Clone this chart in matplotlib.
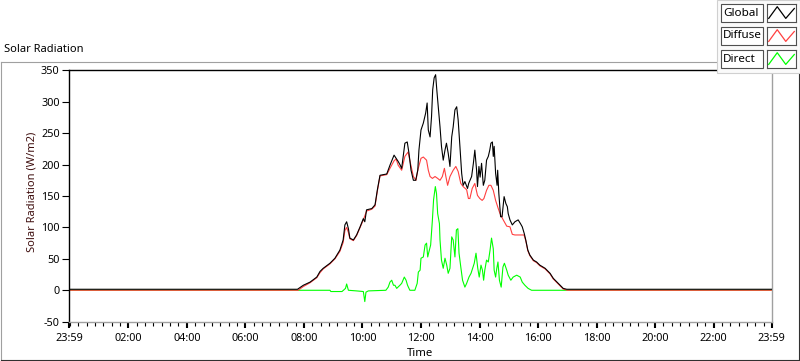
import matplotlib.pyplot as plt
from matplotlib.lines import Line2D
from matplotlib.patches import Rectangle
import numpy as np

plt.rcParams['font.family'] = ['Noto Sans', 'DejaVu Sans']

# time of day in hours, radiation in W/m2
global_pts = [(-0.02, 1.6), (7.78, 1.6), (7.98, 8), (8.21, 13), (8.44, 21), (8.55, 30), (8.66, 35),
              (8.89, 43), (9.06, 51), (9.23, 64), (9.34, 80), (9.40, 104), (9.46, 109), (9.52, 98),
              (9.57, 83), (9.69, 80), (9.80, 88), (9.92, 101), (10.03, 114), (10.08, 109), (10.14, 128),
              (10.32, 130), (10.43, 136), (10.51, 160), (10.60, 183), (10.83, 185), (10.94, 199),
              (11.08, 215), (11.15, 210), (11.22, 205), (11.28, 200), (11.34, 194), (11.45, 234),
              (11.53, 236), (11.59, 218), (11.66, 191), (11.74, 175), (11.82, 175), (11.89, 191),
              (11.93, 223), (12.00, 255), (12.08, 266), (12.16, 282), (12.21, 298), (12.25, 255),
              (12.31, 244), (12.36, 276), (12.40, 319), (12.45, 338), (12.50, 343), (12.54, 319),
              (12.59, 292), (12.65, 260), (12.70, 229), (12.76, 207), (12.82, 223), (12.87, 234),
              (12.93, 218), (12.99, 197), (13.05, 244), (13.10, 260), (13.16, 287), (13.22, 292),
              (13.27, 271), (13.33, 229), (13.39, 186), (13.44, 167), (13.50, 173), (13.59, 162),
              (13.63, 170), (13.73, 181), (13.79, 202), (13.84, 223), (13.90, 191), (13.93, 165),
              (13.98, 197), (14.02, 180), (14.07, 202), (14.13, 167), (14.18, 175), (14.24, 207),
              (14.30, 213), (14.35, 223), (14.39, 234), (14.44, 236), (14.47, 213), (14.50, 229),
              (14.55, 186), (14.60, 167), (14.62, 191), (14.66, 154), (14.72, 117), (14.77, 117),
              (14.84, 149), (14.90, 138), (14.95, 133), (14.98, 122), (15.04, 112), (15.12, 104),
              (15.21, 109), (15.32, 112), (15.40, 106), (15.46, 101), (15.53, 90), (15.58, 80),
              (15.65, 64), (15.72, 56), (15.84, 48), (15.95, 45), (16.06, 40), (16.24, 35),
              (16.41, 27), (16.52, 19), (16.69, 11), (16.86, 3), (16.98, 1.6), (23.98, 1.6)]

diffuse_pts = [(-0.02, 0), (7.80, 0), (7.98, 6), (8.21, 12), (8.44, 20), (8.55, 28), (8.66, 34),
               (8.89, 42), (9.06, 50), (9.23, 62), (9.34, 76), (9.40, 95), (9.46, 100), (9.52, 92),
               (9.57, 82), (9.69, 79), (9.80, 87), (9.92, 100), (10.03, 112), (10.14, 126),
               (10.32, 129), (10.43, 134), (10.51, 158), (10.60, 182), (10.83, 184), (10.94, 194),
               (11.08, 206), (11.15, 209), (11.22, 199), (11.34, 191), (11.45, 213), (11.56, 220),
               (11.64, 202), (11.74, 181), (11.83, 175), (11.89, 191), (12.00, 210), (12.08, 212),
               (12.19, 207), (12.25, 191), (12.31, 181), (12.39, 178), (12.48, 181), (12.57, 178),
               (12.65, 175), (12.73, 181), (12.80, 194), (12.85, 181), (12.91, 167), (12.99, 181),
               (13.10, 191), (13.19, 197), (13.27, 189), (13.36, 170), (13.44, 165), (13.56, 160),
               (13.62, 146), (13.67, 146), (13.75, 162), (13.84, 170), (13.93, 151), (14.01, 146),
               (14.09, 143), (14.15, 146), (14.24, 159), (14.32, 167), (14.39, 167), (14.47, 159),
               (14.55, 143), (14.64, 130), (14.70, 122), (14.81, 112), (14.93, 102), (15.04, 101),
               (15.12, 89), (15.21, 88), (15.38, 88), (15.52, 88), (15.58, 79), (15.65, 63),
               (15.72, 55), (15.84, 47), (15.95, 44), (16.06, 39), (16.24, 34), (16.41, 26),
               (16.52, 18), (16.69, 10), (16.86, 2), (17.00, 0), (23.98, 0)]

direct_pts = [(-0.02, 0), (8.89, 0), (8.92, -2), (9.30, -2), (9.35, 0), (9.42, 3), (9.46, 10),
              (9.52, 0), (9.80, -1), (10.03, -2), (10.08, -18), (10.12, -3), (10.20, -1), (10.80, 0),
              (10.88, 5), (10.94, 13), (11.00, 16), (11.06, 8), (11.11, 8), (11.17, 3), (11.28, 8),
              (11.34, 11), (11.43, 21), (11.49, 16), (11.54, 8), (11.62, 0), (11.79, 0), (11.87, 11),
              (11.91, 29), (11.97, 32), (12.00, 51), (12.08, 53), (12.14, 72), (12.19, 75),
              (12.23, 53), (12.27, 61), (12.33, 72), (12.39, 112), (12.43, 144), (12.49, 165),
              (12.53, 154), (12.57, 122), (12.63, 106), (12.65, 80), (12.70, 48), (12.76, 35),
              (12.82, 51), (12.88, 40), (12.93, 27), (12.99, 35), (13.05, 85), (13.10, 80),
              (13.16, 53), (13.21, 96), (13.26, 98), (13.30, 59), (13.36, 37), (13.42, 16),
              (13.50, 5), (13.56, 11), (13.64, 21), (13.71, 27), (13.82, 43), (13.88, 59),
              (13.94, 35), (13.99, 21), (14.05, 40), (14.10, 32), (14.14, 16), (14.18, 32),
              (14.24, 48), (14.30, 45), (14.36, 64), (14.41, 83), (14.47, 66), (14.50, 32),
              (14.55, 21), (14.59, 35), (14.63, 45), (14.68, 16), (14.74, 5), (14.80, 37),
              (14.85, 43), (14.93, 32), (14.98, 24), (15.07, 16), (15.15, 21), (15.27, 24),
              (15.39, 21), (15.46, 13), (15.55, 8), (15.66, 3), (15.78, 0), (23.98, 0)]

series_names = ['Global', 'Diffuse', 'Direct']
series_colors = ['black', '#ff4040', '#00ff00']

x_ticks = [-1 / 60, 2, 4, 6, 8, 10, 12, 14, 16, 18, 20, 22, 23 + 59 / 60]
x_labels = ['23:59', '02:00', '04:00', '06:00', '08:00', '10:00', '12:00', '14:00',
            '16:00', '18:00', '20:00', '22:00', '23:59']
y_ticks = [-50, 0, 50, 100, 150, 200, 250, 300, 350]

W, H = 800, 361


def fx(px):
    return px / W


def fy(py):
    return 1 - py / H


fig = plt.figure(figsize=(8, 3.61), dpi=100)

# outer frame of the graph control
fig.add_artist(Line2D([fx(0.5), fx(0.5)], [fy(61.5), fy(359.5)], color='#a0a0a0', lw=0.8))
fig.add_artist(Line2D([fx(0.5), fx(717)], [fy(61.5), fy(61.5)], color='#a0a0a0', lw=0.8))
fig.add_artist(Line2D([fx(0.5), fx(798.5)], [fy(359.5), fy(359.5)], color='#303030', lw=0.8))
fig.add_artist(Line2D([fx(798.5), fx(798.5)], [fy(73), fy(359.5)], color='#303030', lw=0.8))

fig.text(fx(4), fy(50), 'Solar Radiation', fontsize=8, va='center', ha='left')

ax = fig.add_axes([fx(69.3), fy(321.7), fx(771.7) - fx(69.3), fy(70.3) - fy(321.7)])

pts = [global_pts, diffuse_pts, direct_pts]
zorders = [3, 2.5, 2]
for p, name, c, z in zip(pts, series_names, series_colors, zorders):
    t = [a for a, b in p]
    v = [b for a, b in p]
    ax.plot(t, v, color=c, lw=0.8, zorder=z, label=name)

ax.set_xlim(-1 / 60, 23 + 59 / 60)
ax.set_ylim(-50, 350)
ax.set_xticks(x_ticks)
ax.set_xticklabels(x_labels, fontsize=7.8)
ax.set_xticks(np.arange(0, 24, 2 / 7), minor=True)
ax.set_yticks(y_ticks)
ax.set_yticklabels([str(v) for v in y_ticks], fontsize=7.8)
ax.tick_params(axis='x', which='major', length=4, width=1.5, pad=4)
ax.tick_params(axis='x', which='minor', length=3, width=0.8)
ax.tick_params(axis='y', which='major', length=5, width=0.8, pad=2)

for s in ['top', 'left']:
    ax.spines[s].set_color('black')
    ax.spines[s].set_linewidth(1.0)
for s in ['bottom', 'right']:
    ax.spines[s].set_color('#a0a0a0')
    ax.spines[s].set_linewidth(1.0)

ax.set_xlabel('Time', fontsize=8.2, labelpad=3)
fig.text(fx(32), fy(192), 'Solar Radiation (W/m2)', rotation=90, fontsize=8,
         ha='center', va='center', color='#401010')

# legend panel, LabVIEW style
fig.add_artist(Rectangle((fx(717), fy(73)), fx(800) - fx(717), fy(0) - fy(73),
                         facecolor='#fafafa', edgecolor='#d0d0d0', lw=0.8, zorder=5))
row_top = [4, 27, 50]
for i, (name, c) in enumerate(zip(series_names, series_colors)):
    y0 = row_top[i]
    fig.add_artist(Rectangle((fx(721), fy(y0 + 18)), fx(763) - fx(721), fy(y0) - fy(y0 + 18),
                             facecolor='white', edgecolor='#505050', lw=0.8, zorder=6))
    fig.text(fx(723), fy(y0 + 9), name, fontsize=8.4, va='center', ha='left', zorder=7)
    sa = fig.add_axes([fx(767), fy(y0 + 18), fx(796) - fx(767), fy(y0) - fy(y0 + 18)], zorder=8)
    sa.plot([0, 1, 2, 3], [0.2, 0.85, 0.2, 0.75], color=c, lw=0.9)
    sa.set_xlim(-0.2, 3.2)
    sa.set_ylim(0, 1)
    sa.set_xticks([])
    sa.set_yticks([])
    for s in sa.spines.values():
        s.set_color('#505050')
        s.set_linewidth(0.8)

fig.savefig('out.png', dpi=100)
